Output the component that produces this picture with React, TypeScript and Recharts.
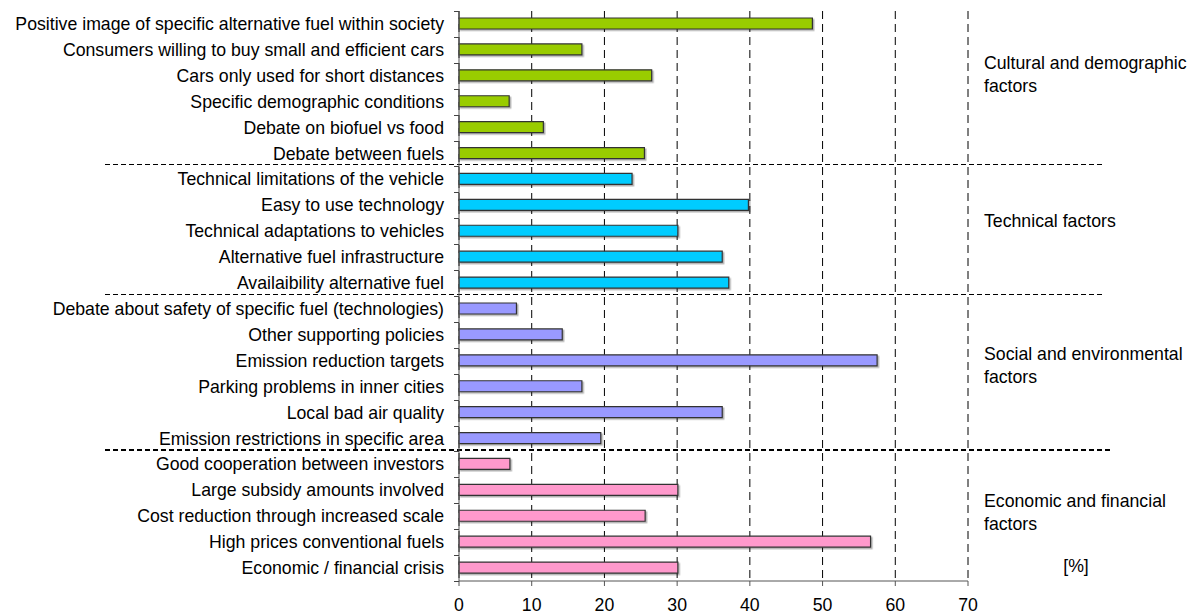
import { BarChart, Bar, XAxis, YAxis, CartesianGrid, Cell, ReferenceLine } from "recharts";

const categories = [
  "Positive image of specific alternative fuel within society",
  "Consumers willing to buy small and efficient cars",
  "Cars only used for short distances",
  "Specific demographic conditions",
  "Debate on biofuel vs food",
  "Debate between fuels",
  "Technical limitations of the vehicle",
  "Easy to use technology",
  "Technical adaptations to vehicles",
  "Alternative fuel infrastructure",
  "Availaibility alternative fuel",
  "Debate about safety of specific fuel (technologies)",
  "Other supporting policies",
  "Emission reduction targets",
  "Parking problems in inner cities",
  "Local bad air quality",
  "Emission restrictions in specific area",
  "Good cooperation between investors",
  "Large subsidy amounts involved",
  "Cost reduction through increased scale",
  "High prices conventional fuels",
  "Economic / financial crisis",
];

const values = [
  48.6, 16.9, 26.5, 6.9, 11.6, 25.5,
  23.8, 39.8, 30.1, 36.2, 37.1,
  7.9, 14.2, 57.5, 16.9, 36.2, 19.5,
  7.0, 30.1, 25.6, 56.6, 30.1,
];

const groupOf = [
  0, 0, 0, 0, 0, 0,
  1, 1, 1, 1, 1,
  2, 2, 2, 2, 2, 2,
  3, 3, 3, 3, 3,
];

const groupColors = ["#99CC00", "#00CCFF", "#9999FF", "#FF99CC"];
const groupLabels = [
  ["Cultural and demographic", "factors"],
  ["Technical factors"],
  ["Social and environmental", "factors"],
  ["Economic and financial", "factors"],
];
const unitLabel = "[%]";

const xTicks = [0, 10, 20, 30, 40, 50, 60, 70];

const data = categories.map((name, i) => ({ name, value: values[i], group: groupOf[i] }));

const FONT = "'Liberation Sans', Arial, sans-serif";
const FS = 17.7;
const W = 1191;
const H = 615;
const M = { top: 11, right: 223, bottom: 4, left: 0 };
const X_AXIS_H = 30;
const BAND = (H - M.top - M.bottom - X_AXIS_H) / categories.length;

function CategoryTick(props: any) {
  const { x, y, payload, index } = props;
  const yb = Math.round(y + BAND / 2) + 0.5;
  const yt = Math.round(y - BAND / 2) + 0.5;
  return (
    <g>
      <text x={x} y={y} textAnchor="end" dominantBaseline="central" fontSize={FS} fontFamily={FONT} fill="#000">
        {payload.value}
      </text>
      <line x1={x + 10} x2={x + 15} y1={yb} y2={yb} stroke="#444" />
      {index === 0 && <line x1={x + 10} x2={x + 15} y1={yt} y2={yt} stroke="#444" />}
    </g>
  );
}

// dashed group separators, running across the labels too
const separator = (x2: number, width: number) => (props: any) => {
  const y = width === 1 ? Math.round(props.y1) - 1.5 : Math.round(props.y1) - 1;
  return <line x1={105} x2={x2} y1={y} y2={y} stroke="#000" strokeWidth={width} strokeDasharray="5 3" />;
};

export default function App() {
  const lastOfGroup = [5, 10, 16];
  return (
    <div style={{ position: "absolute", left: 0, top: 0, width: W, height: H, background: "#fff" }}>
      <BarChart width={W} height={H} data={data} layout="vertical" margin={M} barCategoryGap={0}>
        <defs>
          <filter id="barShadow" x="-5%" y="-30%" width="110%" height="180%">
            <feDropShadow dx="1.5" dy="1.5" stdDeviation="0.4" floodColor="#000" floodOpacity="0.3" />
          </filter>
        </defs>
        <CartesianGrid horizontal={false} stroke="#000" strokeDasharray="8 5" />
        <XAxis
          type="number"
          domain={[0, 70]}
          ticks={xTicks}
          height={X_AXIS_H}
          stroke="#555"
          tickSize={5}
          tickMargin={12}
          tick={{ fontSize: FS, fontFamily: FONT, fill: "#000" }}
        />
        <YAxis
          type="category"
          dataKey="name"
          width={459}
          interval={0}
          stroke="#555"
          tickLine={false}
          tickSize={0}
          tickMargin={15}
          tick={<CategoryTick />}
        />
        <Bar dataKey="value" barSize={11} stroke="#333" strokeWidth={1.2} isAnimationActive={false}>
          {data.map((d, i) => (
            <Cell key={i} fill={groupColors[d.group]} filter="url(#barShadow)" />
          ))}
        </Bar>
        {lastOfGroup.map((idx, i) => (
          <ReferenceLine
            key={idx}
            y={categories[idx]}
            position="end"
            ifOverflow="visible"
            shape={separator(i === 2 ? 1113 : 1103, i === 2 ? 2 : 1)}
          />
        ))}
      </BarChart>
      <svg width={W} height={H} style={{ position: "absolute", left: 0, top: 0, pointerEvents: "none" }}>
        {[
          [63, 86],
          [221],
          [354, 377],
          [501, 524],
        ].map((ys, g) =>
          ys.map((yy, j) => (
            <text key={`${g}-${j}`} x={984} y={yy} dominantBaseline="central" fontSize={FS} fontFamily={FONT} fill="#000">
              {groupLabels[g][j]}
            </text>
          ))
        )}
        <text x={1076} y={566} textAnchor="middle" dominantBaseline="central" fontSize={FS} fontFamily={FONT} fill="#000">
          {unitLabel}
        </text>
      </svg>
    </div>
  );
}
